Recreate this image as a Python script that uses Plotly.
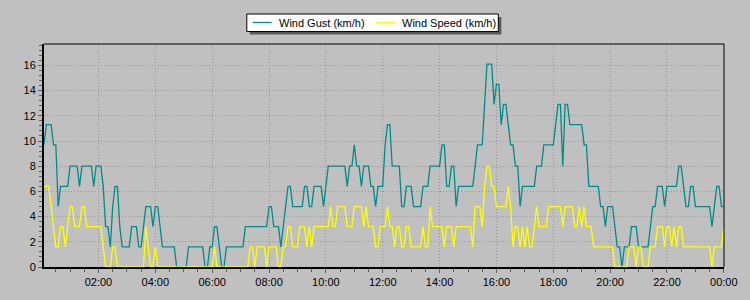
import plotly.graph_objects as go
import pandas as pd

# 5-minute samples from 00:05 to 24:00 (km/h)
start_time = "2024-01-01 00:05"
n_points = 288

wind_gust = [
    9.7, 11.3, 11.3, 11.3, 9.7, 9.7, 4.8, 6.4, 6.4, 6.4, 6.4, 8.0,
    8.0, 8.0, 8.0, 6.4, 8.0, 8.0, 8.0, 8.0, 8.0, 6.4, 8.0, 8.0,
    8.0, 6.4, 3.2, 3.2, 1.6, 4.8, 6.4, 6.4, 3.2, 1.6, 1.6, 1.6,
    1.6, 3.2, 3.2, 3.2, 1.6, 1.6, 3.2, 4.8, 4.8, 4.8, 3.2, 4.8,
    4.8, 3.2, 1.6, 1.6, 1.6, 1.6, 1.6, 1.6, 0, 0, 0, 0,
    0, 1.6, 1.6, 1.6, 1.6, 1.6, 1.6, 1.6, 0, 0, 1.6, 1.6,
    3.2, 3.2, 1.6, 0, 0, 1.6, 1.6, 1.6, 1.6, 1.6, 1.6, 1.6,
    1.6, 3.2, 3.2, 3.2, 3.2, 3.2, 3.2, 3.2, 3.2, 3.2, 3.2, 4.8,
    4.8, 3.2, 3.2, 3.2, 1.6, 3.2, 4.8, 6.4, 6.4, 4.8, 4.8, 4.8,
    4.8, 4.8, 6.4, 6.4, 4.8, 4.8, 6.4, 6.4, 6.4, 6.4, 4.8, 6.4,
    8.0, 8.0, 8.0, 8.0, 8.0, 8.0, 8.0, 8.0, 6.4, 8.0, 8.0, 9.7,
    8.0, 8.0, 6.4, 8.0, 8.0, 8.0, 6.4, 6.4, 4.8, 6.4, 6.4, 6.4,
    9.7, 11.3, 11.3, 8.0, 8.0, 8.0, 8.0, 4.8, 4.8, 6.4, 6.4, 6.4,
    4.8, 4.8, 4.8, 4.8, 6.4, 6.4, 6.4, 8.0, 8.0, 8.0, 8.0, 8.0,
    9.7, 9.7, 6.4, 6.4, 8.0, 8.0, 4.8, 6.4, 6.4, 6.4, 6.4, 6.4,
    6.4, 6.4, 8.0, 9.7, 9.7, 9.7, 12.9, 16.1, 16.1, 16.1, 12.9, 14.5,
    14.5, 11.3, 12.9, 12.9, 11.3, 9.7, 9.7, 8.0, 8.0, 4.8, 6.4, 6.4,
    6.4, 6.4, 6.4, 6.4, 8.0, 8.0, 8.0, 9.7, 9.7, 9.7, 9.7, 9.7,
    11.3, 12.9, 12.9, 8.0, 12.9, 12.9, 11.3, 11.3, 11.3, 11.3, 11.3, 11.3,
    9.7, 9.7, 6.4, 6.4, 6.4, 6.4, 6.4, 4.8, 4.8, 3.2, 4.8, 4.8,
    4.8, 3.2, 1.6, 1.6, 0, 1.6, 1.6, 1.6, 3.2, 3.2, 3.2, 1.6,
    1.6, 1.6, 1.6, 1.6, 3.2, 4.8, 4.8, 6.4, 6.4, 6.4, 4.8, 6.4,
    6.4, 6.4, 6.4, 6.4, 8.0, 8.0, 6.4, 4.8, 4.8, 6.4, 6.4, 4.8,
    4.8, 4.8, 4.8, 4.8, 4.8, 4.8, 3.2, 4.8, 6.4, 6.4, 4.8, 4.8,
]

wind_speed = [
    6.4, 6.4, 6.4, 4.8, 3.2, 1.6, 1.6, 3.2, 3.2, 1.6, 3.2, 4.8,
    4.8, 3.2, 3.2, 3.2, 4.8, 4.8, 3.2, 3.2, 3.2, 3.2, 3.2, 3.2,
    3.2, 1.6, 0, 0, 0, 1.6, 1.6, 0, 0, 0, 0, 0,
    0, 0, 0, 0, 0, 0, 0, 3.2, 1.6, 0, 0, 1.6,
    0, 0, 0, 0, 0, 0, 0, 0, 0, 0, 0, 0,
    0, 0, 0, 0, 0, 0, 0, 0, 0, 0, 0, 0,
    1.6, 0, 0, 0, 0, 0, 0, 0, 0, 0, 0, 0,
    0, 0, 0, 1.6, 1.6, 0, 1.6, 1.6, 1.6, 1.6, 0, 1.6,
    1.6, 1.6, 1.6, 0, 0, 1.6, 1.6, 3.2, 3.2, 1.6, 1.6, 1.6,
    3.2, 3.2, 3.2, 1.6, 3.2, 1.6, 3.2, 3.2, 3.2, 3.2, 3.2, 3.2,
    3.2, 4.8, 3.2, 3.2, 4.8, 4.8, 4.8, 4.8, 3.2, 3.2, 3.2, 4.8,
    4.8, 4.8, 4.8, 3.2, 4.8, 3.2, 3.2, 3.2, 1.6, 1.6, 3.2, 3.2,
    3.2, 4.8, 3.2, 3.2, 1.6, 3.2, 3.2, 1.6, 1.6, 3.2, 3.2, 1.6,
    1.6, 1.6, 1.6, 1.6, 3.2, 1.6, 1.6, 4.8, 3.2, 3.2, 3.2, 3.2,
    3.2, 1.6, 3.2, 3.2, 3.2, 1.6, 3.2, 3.2, 3.2, 3.2, 3.2, 3.2,
    3.2, 1.6, 4.8, 4.8, 4.8, 3.2, 6.4, 8.0, 8.0, 6.4, 6.4, 4.8,
    4.8, 4.8, 4.8, 4.8, 6.4, 4.8, 1.6, 3.2, 3.2, 1.6, 3.2, 1.6,
    3.2, 1.6, 1.6, 3.2, 4.8, 3.2, 3.2, 3.2, 3.2, 4.8, 4.8, 4.8,
    4.8, 4.8, 4.8, 3.2, 4.8, 4.8, 4.8, 4.8, 3.2, 3.2, 4.8, 3.2,
    4.8, 3.2, 3.2, 3.2, 1.6, 1.6, 1.6, 1.6, 1.6, 1.6, 1.6, 1.6,
    1.6, 0, 0, 0, 0, 0, 0, 1.6, 1.6, 1.6, 0, 1.6,
    1.6, 0, 0, 0, 1.6, 1.6, 1.6, 3.2, 3.2, 3.2, 1.6, 3.2,
    3.2, 1.6, 3.2, 1.6, 3.2, 3.2, 1.6, 1.6, 1.6, 1.6, 1.6, 1.6,
    1.6, 1.6, 1.6, 1.6, 1.6, 1.6, 0, 1.6, 1.6, 1.6, 1.6, 3.2,
]

series_names = ["Wind Gust (km/h)", "Wind Speed (km/h)"]
series_colors = ["#008B8B", "#FFFF00"]
y_ticks = [0, 2, 4, 6, 8, 10, 12, 14, 16]

times = pd.date_range(start_time, periods=n_points, freq="5min")

FONT = "Liberation Sans, Arial, sans-serif"
BG = "#C0C0C0"
GRID = "#969696"

W, H = 750, 300
ML, MR, MT, MB = 44, 22, 44, 33
PW, PH = W - ML - MR, H - MT - MB


def px_x(px):
    return (px - ML) / PW


def px_y(py):
    return (H - MB - py) / PH


fig = go.Figure()
for vals, name, color in zip([wind_gust, wind_speed], series_names, series_colors):
    fig.add_trace(go.Scatter(x=times, y=vals, mode="lines", name=name,
                             line=dict(color=color, width=1.3)))

# custom legend (box with drop shadow, line samples, labels)
shapes = [
    dict(type="line", xref="paper", yref="paper", x0=0, x1=1, y0=1, y1=1,
         line=dict(color="black", width=1)),
    dict(type="line", xref="paper", yref="paper", x0=1, x1=1, y0=0, y1=1,
         line=dict(color="black", width=1)),
    dict(type="rect", xref="paper", yref="paper",
         x0=px_x(251), x1=px_x(504), y0=px_y(34.5), y1=px_y(17),
         fillcolor="#5A5A5A", line=dict(width=0)),
    dict(type="rect", xref="paper", yref="paper",
         x0=px_x(248), x1=px_x(501), y0=px_y(31.5), y1=px_y(14),
         fillcolor="white", line=dict(color="black", width=1)),
]
annotations = []
leg_y = px_y(22.5)
for (lx0, lx1, tx), name, color in zip([(254, 273, 279.5), (378, 397, 403)], series_names, series_colors):
    shapes.append(dict(type="line", xref="paper", yref="paper",
                       x0=px_x(lx0), x1=px_x(lx1), y0=leg_y, y1=leg_y,
                       line=dict(color=color, width=1.3)))
    annotations.append(dict(xref="paper", yref="paper", x=px_x(tx), y=leg_y,
                            xanchor="left", yanchor="middle", text=name, showarrow=False,
                            font=dict(family=FONT, size=11, color="black"), borderpad=0))

fig.update_layout(
    width=W, height=H,
    margin=dict(l=ML, r=MR, t=MT, b=MB),
    paper_bgcolor=BG, plot_bgcolor=BG,
    font=dict(family=FONT, size=11, color="black"),
    showlegend=False,
    xaxis=dict(
        type="date",
        range=["2024-01-01 00:05", "2024-01-02 00:00:20"],
        tickformat="%H:%M", dtick=7200000, tick0="2024-01-01 00:00",
        ticks="outside", ticklen=4, tickcolor="#606060",
        showgrid=True, gridcolor=GRID, griddash="1px,2px", gridwidth=1,
        showline=True, linecolor="black", linewidth=2,
        zeroline=False,
        minor=dict(dtick=1800000, ticks="outside", ticklen=3, tickcolor="#606060", showgrid=False),
        tickfont=dict(family=FONT, size=11, color="black"),
    ),
    yaxis=dict(
        range=[0, 17.7],
        tickvals=y_ticks,
        ticks="outside", ticklen=4, tickcolor="#606060",
        showgrid=True, gridcolor=GRID, griddash="1px,2px", gridwidth=1,
        showline=True, linecolor="black", linewidth=2,
        zeroline=False,
        minor=dict(dtick=0.4, ticks="outside", ticklen=3, tickcolor="#606060", showgrid=False),
        tickfont=dict(family=FONT, size=11, color="black"),
    ),
    shapes=shapes,
    annotations=annotations,
)

fig.write_html("out.html")
